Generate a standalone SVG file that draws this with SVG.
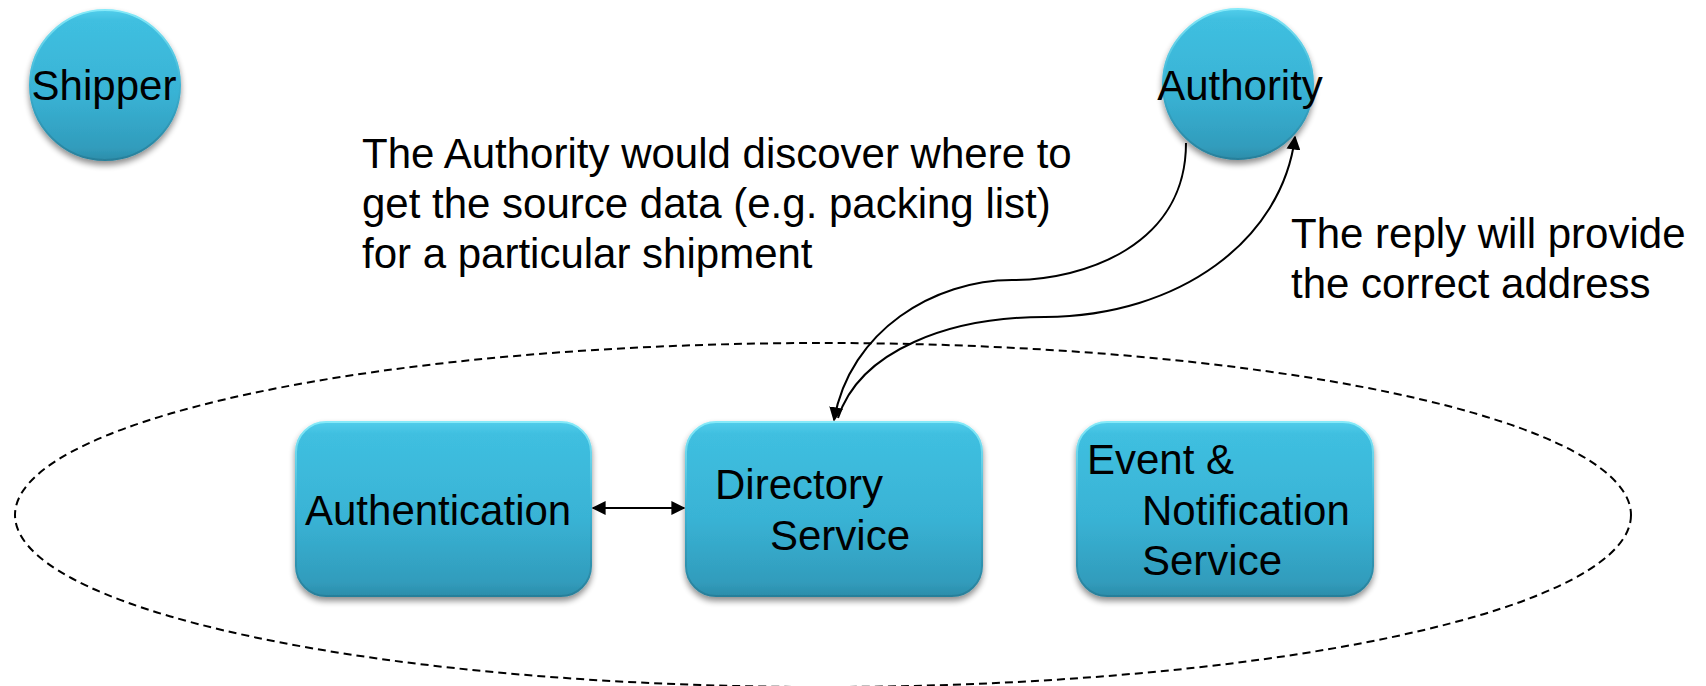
<svg xmlns="http://www.w3.org/2000/svg" width="1706" height="686" viewBox="0 0 1706 686">
  <style>
    text { font-family: "Liberation Sans", Arial, sans-serif; font-size: 42px; fill: #000; }
    .node-shape { fill: url(#bodyFill); stroke: url(#rimStroke); stroke-width: 2; filter: url(#shadow); }
    .link { fill: none; stroke: #000; stroke-width: 2; }
    .boundary { fill: none; stroke: #000; stroke-width: 2; stroke-dasharray: 8 5; }
  </style>
  <defs>
    <linearGradient id="bodyFill" x1="0" y1="0" x2="0" y2="1">
      <stop offset="0" stop-color="#52CDEB"/>
      <stop offset="0.07" stop-color="#3FBFE0"/>
      <stop offset="0.55" stop-color="#39B3D5"/>
      <stop offset="0.92" stop-color="#319CBC"/>
      <stop offset="1" stop-color="#2C8DAA"/>
    </linearGradient>
    <linearGradient id="rimStroke" x1="0" y1="0" x2="0" y2="1">
      <stop offset="0" stop-color="#86EAF9"/>
      <stop offset="0.5" stop-color="#3AB2D3"/>
      <stop offset="1" stop-color="#287F9A"/>
    </linearGradient>
    <filter id="shadow" x="-10%" y="-10%" width="120%" height="125%">
      <feGaussianBlur in="SourceAlpha" stdDeviation="3"/>
      <feOffset dx="0" dy="4" result="blur"/>
      <feComponentTransfer><feFuncA type="linear" slope="0.45"/></feComponentTransfer>
      <feMerge><feMergeNode/><feMergeNode in="SourceGraphic"/></feMerge>
    </filter>
    <marker id="arrow" viewBox="0 0 10 10" refX="9" refY="5" markerWidth="7" markerHeight="7" orient="auto-start-reverse" markerUnits="strokeWidth">
      <path d="M0,0 L10,5 L0,10 z" fill="#000"/>
    </marker>
  </defs>

  <!-- dashed system boundary -->
  <ellipse class="boundary" cx="823" cy="515" rx="808" ry="172"/>

  <g id="shipper">
    <circle class="node-shape" cx="105" cy="85" r="75"/>
    <text x="104" y="100" text-anchor="middle">Shipper</text>
  </g>

  <g id="authority">
    <circle class="node-shape" cx="1238" cy="84" r="75"/>
    <text x="1240" y="100" text-anchor="middle">Authority</text>
  </g>

  <g id="authentication">
    <rect class="node-shape" x="296" y="422" width="295" height="174" rx="30"/>
    <text x="305" y="525">Authentication</text>
  </g>

  <g id="directory-service">
    <rect class="node-shape" x="686" y="422" width="296" height="174" rx="30"/>
    <text x="715" y="499">Directory</text>
    <text x="770" y="550">Service</text>
  </g>

  <g id="event-notification-service">
    <rect class="node-shape" x="1077" y="422" width="296" height="174" rx="30"/>
    <text x="1087" y="474">Event &amp;</text>
    <text x="1142" y="525">Notification</text>
    <text x="1142" y="575">Service</text>
  </g>

  <g id="notes">
    <text x="362" y="168">The Authority would discover where to</text>
    <text x="362" y="218">get the source data (e.g. packing list)</text>
    <text x="362" y="268">for a particular shipment</text>
    <text x="1291" y="248">The reply will provide</text>
    <text x="1291" y="298">the correct address</text>
  </g>

  <g id="connectors">
    <path class="link" d="M593,508 L684,508" marker-start="url(#arrow)" marker-end="url(#arrow)"/>
    <path class="link" d="M1186,143 C1186,245 1085,280 1012,280 C935,280 850,330 834,420" marker-end="url(#arrow)"/>
    <path class="link" d="M838,418 C860,350 950,317 1045,317 C1180,316 1282,240 1295,137" marker-end="url(#arrow)"/>
  </g>
</svg>
